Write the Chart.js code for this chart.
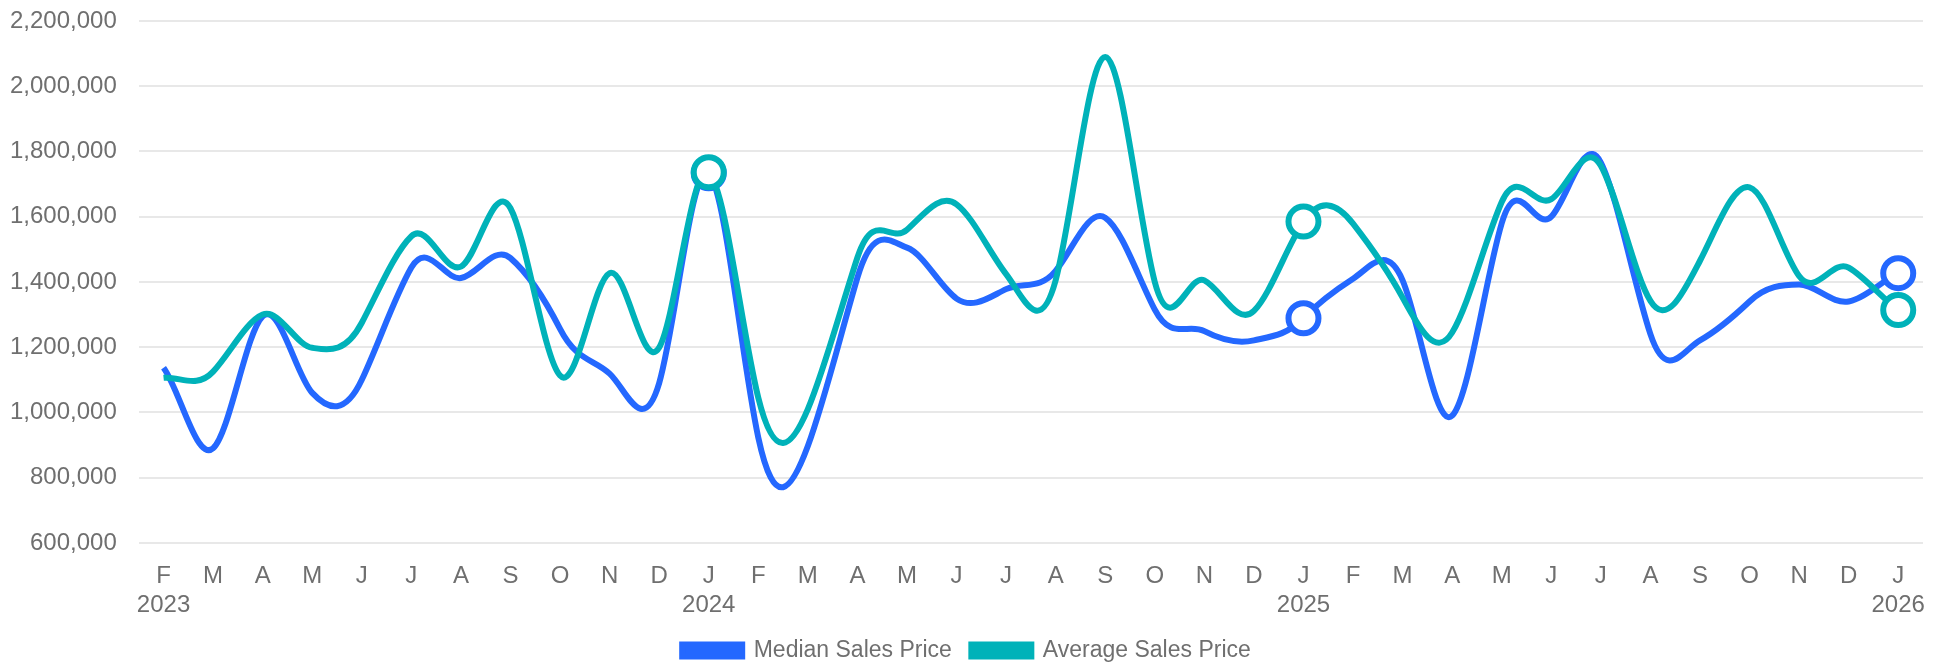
<!DOCTYPE html>
<html>
<head>
<meta charset="utf-8">
<script src="https://cdn.jsdelivr.net/npm/chart.js@4"></script>
<style>
  html, body { margin: 0; padding: 0; background: #fff; }
</style>
</head>
<body>
<canvas id="priceChart" width="1946" height="664"></canvas>
<script>
const months = ['F','M','A','M','J','J','A','S','O','N','D',
    'J','F','M','A','M','J','J','A','S','O','N','D',
    'J','F','M','A','M','J','J','A','S','O','N','D','J'];
const years = ['2023','','','','','','','','','','',
    '2024','','','','','','','','','','','',
    '2025','','','','','','','','','','','','2026'];

const medianPrices = [1137000, 890000, 1295000, 1060000, 1100000, 1444000, 1412000, 1473000, 1256000, 1119000, 1090000,
    1733000, 923000, 897000, 1413000, 1505000, 1349000, 1378000, 1434000, 1597000, 1315000, 1249000, 1221000,
    1289000, 1410000, 1405000, 990000, 1580000, 1600000, 1766000, 1240000, 1221000, 1340000, 1392000, 1340000, 1427000];
const averagePrices = [1106000, 1125000, 1300000, 1198000, 1275000, 1540000, 1447000, 1626000, 1113000, 1427000, 1199000,
    1736000, 1045000, 1010000, 1475000, 1560000, 1638000, 1424000, 1405000, 2090000, 1400000, 1405000, 1311000,
    1585000, 1579000, 1352000, 1245000, 1645000, 1654000, 1756000, 1342000, 1465000, 1690000, 1418000, 1444000, 1314000];

const yTicks = [600000, 800000, 1000000, 1200000, 1400000, 1600000, 1800000, 2000000, 2200000];

const labels = months.map((m, i) => years[i] ? [m, years[i]] : m);
const isJan = i => months[i] === 'J' && years[i] !== '';

const FONT = "'Liberation Sans', Arial, Helvetica, sans-serif";
const TEXT = '#6f6f6f';
const SMOOTH = 0.28;

// stronger, evenly weighted curve handles than chart.js' default spline
const evenCurve = {
    id: 'evenCurve',
    beforeDatasetDraw(chart, args) {
        const line = args.meta.dataset;
        const pts = line.points;
        if (!pts || pts.length < 3) return;
        line.updateControlPoints(chart.chartArea, 'x');
        const last = pts.length - 1;
        pts.forEach((p, i) => {
            const prev = pts[i - 1] || p;
            const next = pts[i + 1] || p;
            const hx = (i === 0 || i === last) ? (next.x - prev.x) / 3 : (next.x - prev.x) / 6;
            const hy = SMOOTH * (next.y - prev.y);
            p.cp1x = p.x - hx; p.cp1y = p.y - hy;
            p.cp2x = p.x + hx; p.cp2y = p.y + hy;
        });
        line._pointsUpdated = true;
        line._path = undefined;
    }
};

function series(label, data, color, order) {
    return {
        label: label,
        data: data,
        order: order,
        borderColor: color,
        backgroundColor: color,
        borderWidth: 6,
        tension: 0.4,
        fill: false,
        pointRadius: ctx => isJan(ctx.dataIndex) ? 15 : 0,
        pointHoverRadius: ctx => isJan(ctx.dataIndex) ? 15 : 0,
        pointBackgroundColor: '#fff',
        pointBorderColor: color,
        pointBorderWidth: 6
    };
}

new Chart(document.getElementById('priceChart'), {
    type: 'line',
    data: {
        labels: labels,
        datasets: [
            series('Median Sales Price', medianPrices, '#2468ff', 1),
            series('Average Sales Price', averagePrices, '#00b2b9', 0)
        ]
    },
    plugins: [evenCurve],
    options: {
        responsive: false,
        animation: false,
        layout: { padding: { left: 10, right: 23, top: 21, bottom: -8 } },
        plugins: {
            tooltip: { enabled: false },
            legend: {
                position: 'bottom',
                labels: {
                    boxWidth: 60,
                    boxHeight: 12,
                    padding: 19.5,
                    color: TEXT,
                    font: { family: FONT, size: 23 },
                    sort: (a, b) => a.datasetIndex - b.datasetIndex
                }
            }
        },
        scales: {
            x: {
                offset: true,
                grid: { display: false, drawTicks: true, tickLength: 19 },
                border: { display: false },
                ticks: {
                    autoSkip: false,
                    maxRotation: 0,
                    padding: 0,
                    color: TEXT,
                    font: { family: FONT, size: 24, lineHeight: 1.2 }
                }
            },
            y: {
                min: yTicks[0],
                max: yTicks[yTicks.length - 1],
                afterBuildTicks: axis => { axis.ticks = yTicks.map(v => ({ value: v })); },
                grid: { color: '#e8e8e8', lineWidth: 2, drawTicks: true, tickLength: 22, tickColor: 'rgba(0,0,0,0)' },
                border: { display: false },
                ticks: {
                    padding: 0,
                    color: TEXT,
                    font: { family: FONT, size: 24 },
                    callback: v => v.toLocaleString('en-US')
                }
            }
        }
    }
});
</script>
</body>
</html>
